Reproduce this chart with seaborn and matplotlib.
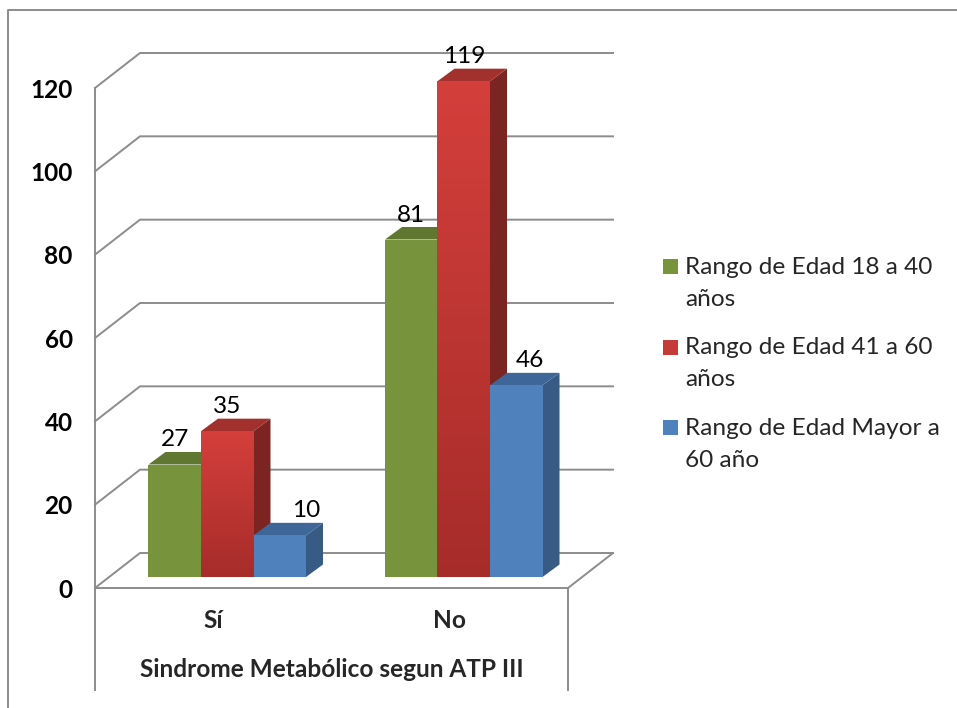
import textwrap

import matplotlib
matplotlib.use("Agg")
import matplotlib.pyplot as plt
import numpy as np
import pandas as pd
import seaborn as sns
from matplotlib.colors import LinearSegmentedColormap
from matplotlib.lines import Line2D
from matplotlib.patches import Polygon, Rectangle
from matplotlib.transforms import IdentityTransform

# ---- data -----------------------------------------------------------------
categorias = ["Sí", "No"]
grupos = [
    "Rango de Edad 18 a 40 años",
    "Rango de Edad 41 a 60 años",
    "Rango de Edad Mayor a 60 año",
]
valores_18_40 = [27, 81]
valores_41_60 = [35, 119]
valores_mayor_60 = [10, 46]
marcas_y = [0, 20, 40, 60, 80, 100, 120]
titulo_x = "Sindrome Metabólico segun ATP III"

series = [valores_18_40, valores_41_60, valores_mayor_60]

# ---- style ----------------------------------------------------------------
color_frente = ["#77933C", "#C43C39", "#4F81BD"]
color_lado = ["#5B7131", "#7C2422", "#385B86"]
color_tope = ["#5F7731", "#A2302D", "#3F6698"]
gradiente_rojo = LinearSegmentedColormap.from_list("rojo", ["#A62C2A", "#D43F3B"])
gris = "#8C8C8C"

sns.set_theme(style="white")
plt.rcParams["font.family"] = ["Lato", "DejaVu Sans"]
FS = 17.6

W, H = 957, 708
fig = plt.figure(figsize=(W / 100, H / 100), dpi=100)
fig.patch.set_facecolor("white")

# front plane of the 3-D box (image pixels: left, top, right, bottom)
L, T, R, B = 95, 88, 568, 588
prof_pared = np.array([45.0, 35.0])   # depth of the walls (px)
desp_barras = (14, 11)                # bars sit a bit behind the front plane
prof_barra = (17.0, 12.5)             # depth of each 3-D bar (px)


def caja(left, top, right, bottom):
    return [left / W, 1 - bottom / H, (right - left) / W, (bottom - top) / H]


ax = fig.add_axes(caja(L, T, R, B))
ax.set_xlim(-0.5, len(categorias) - 0.5)
ax.set_ylim(marcas_y[0], marcas_y[-1])
ax.patch.set_alpha(0)
for s in ax.spines.values():
    s.set_visible(False)
ax.set_xticks([])
ax.set_yticks(marcas_y)
ax.set_yticklabels([str(t) for t in marcas_y], fontsize=FS, fontweight="bold", color="black")
ax.tick_params(axis="y", length=0, pad=16)

# ---- walls, floor and gridlines (display pixels) ---------------------------
def linea(xs, ys, z=-1):
    fig.add_artist(Line2D(xs, ys, color=gris, lw=1.4, transform=IdentityTransform(),
                          zorder=z, solid_capstyle="projecting"))

x_ini, x_fin = ax.get_xlim()
for t in marcas_y:
    p0 = ax.transData.transform((x_ini, t))
    p1 = p0 + prof_pared
    p2 = np.array([ax.transData.transform((x_fin, t))[0], p0[1]]) + prof_pared
    linea([p0[0], p1[0], p2[0]], [p0[1], p1[1], p2[1]])

f0 = ax.transData.transform((x_ini, 0))
f1 = ax.transData.transform((x_fin, 0))
top_left = ax.transData.transform((x_ini, marcas_y[-1]))
fondo = H - 690
linea([f0[0], f1[0], f1[0] + prof_pared[0]], [f0[1], f1[1], f1[1] + prof_pared[1]])
linea([top_left[0], f0[0], f0[0]], [top_left[1], f0[1], fondo])
linea([f1[0], f1[0]], [f1[1], fondo])

# outer chart border
linea([8, 8, W + 5], [-5, H - 10, H - 10], z=-2)

# ---- bars -----------------------------------------------------------------
axb = fig.add_axes(caja(L + desp_barras[0], T - desp_barras[1], R + desp_barras[0], B - desp_barras[1]))
df = pd.DataFrame({
    "categoria": categorias * len(grupos),
    "grupo": [g for g in grupos for _ in categorias],
    "valor": [v for s in series for v in s],
})
sns.barplot(data=df, x="categoria", y="valor", hue="grupo", order=categorias,
            hue_order=grupos, palette=color_frente, saturation=1, width=0.666,
            errorbar=None, legend=False, linewidth=0, ax=axb)
axb.set_xlim(-0.5, len(categorias) - 0.5)
axb.set_ylim(marcas_y[0], marcas_y[-1])
axb.axis("off")
axb.patch.set_alpha(0)

bb = axb.get_window_extent()
ddx = prof_barra[0] / (bb.width / (len(categorias)))
ddy = prof_barra[1] / (bb.height / (marcas_y[-1] - marcas_y[0]))

desp_etiqueta = {(0, 2): 26, (1, 2): 14}   # px nudges for labels next to taller bars

barras = sorted(axb.patches, key=lambda p: p.get_x())
for k, p in enumerate(barras):
    c, s = divmod(k, len(grupos))
    v = series[s][c]
    x0, w, h = p.get_x(), p.get_width(), p.get_height()
    base = 3 + 3 * k
    lado = Polygon([(x0 + w, 0), (x0 + w + ddx, ddy), (x0 + w + ddx, h + ddy), (x0 + w, h)],
                   closed=True, facecolor=color_lado[s], edgecolor="none",
                   zorder=base, clip_on=False)
    tope = Polygon([(x0, h), (x0 + w, h), (x0 + w + ddx, h + ddy), (x0 + ddx, h + ddy)],
                   closed=True, facecolor=color_tope[s], edgecolor="none",
                   zorder=base, clip_on=False)
    axb.add_patch(lado)
    axb.add_patch(tope)
    p.set_zorder(base + 1)
    p.set_clip_on(False)
    if s == 1:
        grad = np.linspace(0, 1, 256).reshape(-1, 1)
        im = axb.imshow(grad, cmap=gradiente_rojo, origin="lower", aspect="auto",
                        extent=(x0, x0 + w, 0, h), zorder=base + 2, clip_on=False)
        im.set_clip_path(p)
    dx_px = desp_etiqueta.get((c, s), 0)
    axb.annotate(str(v), (x0 + w / 2, v), xytext=(dx_px * 0.72, 18 * 0.72),
                 textcoords="offset points", ha="center", va="baseline",
                 fontsize=FS, color="black", zorder=50, annotation_clip=False)

axb.set_xlim(-0.5, len(categorias) - 0.5)
axb.set_ylim(marcas_y[0], marcas_y[-1])

# ---- category labels and axis title ----------------------------------------
for i, cat in enumerate(categorias):
    ax.text(i, -(628 - B) / (B - T), cat, transform=ax.get_xaxis_transform(),
            ha="center", va="baseline", fontsize=FS, fontweight="bold")
ax.text(0.5, -(677 - B) / (B - T), titulo_x, transform=ax.transAxes,
        ha="center", va="baseline", fontsize=FS, fontweight="bold")

# ---- legend -----------------------------------------------------------------
ley_x, ley_y0, paso, interlinea = 663, 259, 80.5, 32
for i, g in enumerate(grupos):
    y = ley_y0 + i * paso
    fig.add_artist(Rectangle((ley_x / W, 1 - (y + 15) / H), 15 / W, 15 / H,
                             facecolor=color_frente[i], edgecolor="none",
                             transform=fig.transFigure))
    for j, renglon in enumerate(textwrap.wrap(g, 21)):
        fig.text(685 / W, 1 - (y + 15 + j * interlinea) / H, renglon, fontsize=FS,
                 ha="left", va="baseline")

fig.savefig("out.png", dpi=100, facecolor="white")
